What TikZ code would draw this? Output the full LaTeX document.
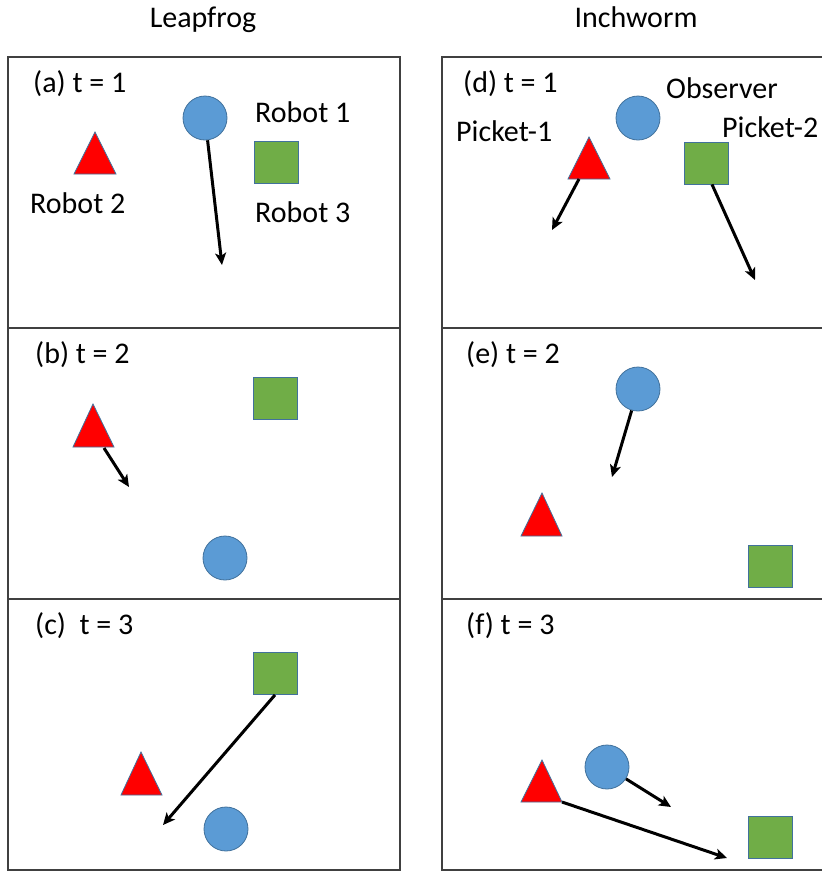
\documentclass[tikz,border=0pt]{standalone}
\usepackage{fontspec}
\setmainfont{Carlito}
\usetikzlibrary{arrows.meta}
\definecolor{robblue}{HTML}{5B9BD5}
\definecolor{robgreen}{HTML}{70AD47}
\definecolor{robred}{HTML}{FF0000}
\definecolor{edgeblue}{HTML}{41719C}
\definecolor{framegray}{HTML}{404040}
\begin{document}
\begin{tikzpicture}[x=1pt,y=-1pt,
  lbl/.style={anchor=base west,inner sep=0pt,font=\fontsize{30}{36}\selectfont},
  ttl/.style={anchor=base,inner sep=0pt,font=\fontsize{30}{36}\selectfont},
  frame/.style={draw=framegray,line width=1.3pt},
  rob1/.style={circle,fill=robblue,draw=edgeblue,line width=0.8pt,minimum size=44pt,inner sep=0pt},
  rob3/.style={rectangle,fill=robgreen,draw=edgeblue,line width=0.8pt,minimum width=44pt,minimum height=42pt,inner sep=0pt},
  rob2/.style={fill=robred,draw=edgeblue,line width=0.8pt,line join=miter},
  move/.style={line width=3pt,-{Stealth[length=12pt,width=11pt,inset=3pt]}}
]
\useasboundingbox (0,0) rectangle (822,871);
% titles
\node[ttl] (tl) at (203,27) {Leapfrog};
\node[ttl] (tr) at (636,27) {Inchworm};
% frames
\draw[frame] (8,57) rectangle (400,870);
\draw[frame] (8,328) -- (400,328);
\draw[frame] (8,599) -- (400,599);
\draw[frame] (442,57) rectangle (830,870);
\draw[frame] (442,328) -- (830,328);
\draw[frame] (442,599) -- (830,599);

% ---------- panel a ----------
\node[lbl] (la) at (33,92) {(a) t = 1};
\node[lbl] (r1) at (255,122) {Robot 1};
\node[lbl] (r2) at (30,213) {Robot 2};
\node[lbl] (r3) at (255,222) {Robot 3};
\coordinate (ta1) at (95,132); \coordinate (ta2) at (74,174); \coordinate (ta3) at (116,174);
\draw[rob2] (ta1) -- (ta2) -- (ta3) -- cycle;
\node[rob1] (ca) at (205,118) {};
\node[rob3] (sa) at (276,162.5) {};
\coordinate (ea) at (222,265);
\draw[move] (ca) -- (ea);

% ---------- panel b ----------
\node[lbl] (lb) at (35,363) {(b) t = 2};
\coordinate (tb1) at (93,404); \coordinate (tb2) at (73,447); \coordinate (tb3) at (114,447);
\draw[rob2] (tb1) -- (tb2) -- (tb3) -- cycle;
\node[rob1] (cb) at (225,558) {};
\node[rob3] (sb) at (275,398.5) {};
\coordinate (tbs) at (104,448);
\coordinate (eb) at (129,487);
\draw[move] (tbs) -- (eb);

% ---------- panel c ----------
\node[lbl] (lc) at (35,634) {(c)\ \ t = 3};
\coordinate (tc1) at (141,752); \coordinate (tc2) at (121,795); \coordinate (tc3) at (162,795);
\draw[rob2] (tc1) -- (tc2) -- (tc3) -- cycle;
\node[rob1] (cc) at (226,829) {};
\node[rob3] (sc) at (275,673.5) {};
\coordinate (ec) at (163,825);
\draw[move] (sc.south) -- (ec);

% ---------- panel d ----------
\node[lbl] (ld) at (463,92) {(d) t = 1};
\node[lbl] (obs) at (666,98) {Observer};
\node[lbl] (p1) at (456,141) {Picket-1};
\node[lbl] (p2) at (722,137) {Picket-2};
\coordinate (td1) at (589,137); \coordinate (td2) at (568,179); \coordinate (td3) at (610,179);
\draw[rob2] (td1) -- (td2) -- (td3) -- cycle;
\node[rob1] (cd) at (638,118) {};
\node[rob3] (sd) at (706,163) {};
\coordinate (tds) at (579,179);
\coordinate (ed1) at (552,230);
\coordinate (ed2) at (755,280);
\draw[move] (tds) -- (ed1);
\draw[move] ([xshift=6pt]sd.south) -- (ed2);

% ---------- panel e ----------
\node[lbl] (le) at (466,363) {(e) t = 2};
\coordinate (te1) at (542,493); \coordinate (te2) at (521,536); \coordinate (te3) at (562,536);
\draw[rob2] (te1) -- (te2) -- (te3) -- cycle;
\node[rob1] (ce) at (638,389) {};
\node[rob3] (se) at (770,566) {};
\coordinate (ee) at (612,477);
\draw[move] (ce) -- (ee);

% ---------- panel f ----------
\node[lbl] (lf) at (466,634) {(f) t = 3};
\coordinate (tf1) at (542,760); \coordinate (tf2) at (521,802); \coordinate (tf3) at (562,802);
\draw[rob2] (tf1) -- (tf2) -- (tf3) -- cycle;
\node[rob1] (cf) at (607,767) {};
\node[rob3] (sf) at (770,837.5) {};
\coordinate (ef1) at (671,807);
\coordinate (ef2) at (727,858);
\draw[move] (cf) -- (ef1);
\draw[move] (tf3) -- (ef2);
\end{tikzpicture}
\end{document}
